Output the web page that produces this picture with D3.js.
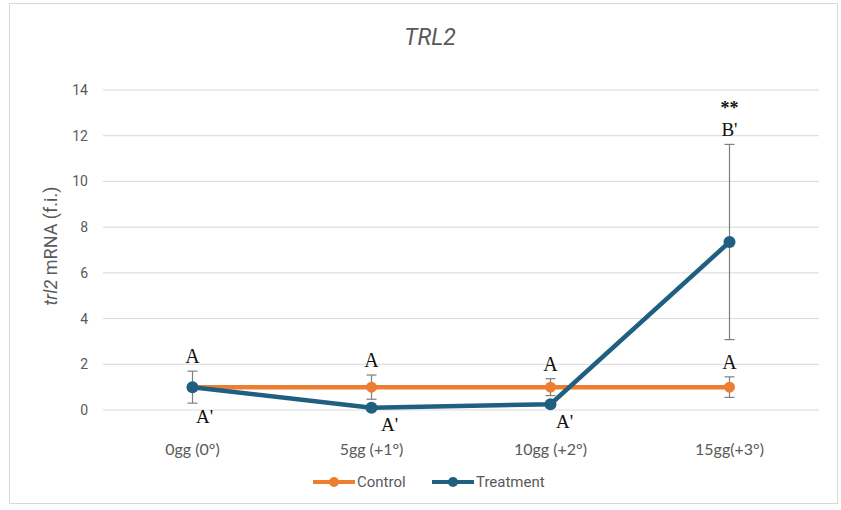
<!DOCTYPE html>
<html><head><meta charset="utf-8">
<script src="https://cdn.jsdelivr.net/npm/d3@7"></script>
<style>body{margin:0;background:#fff}svg{display:block}</style>
</head><body>
<svg id="c" width="841" height="510"></svg>
<script>
const categories = ["0gg (0°)", "5gg (+1°)", "10gg (+2°)", "15gg(+3°)"];
const controlValues = [1, 1, 1, 1];
const controlErrors = [0.7, 0.53, 0.37, 0.45];
const treatmentValues = [1, 0.1, 0.25, 7.35];
const treatmentErrors = [0, 0, 0, 4.27];
const controlLetters = ["A", "A", "A", "A"];
const treatmentLetters = ["A'", "A'", "A'", "B'"];
const significance = ["", "", "", "**"];
const yTicks = [0, 2, 4, 6, 8, 10, 12, 14];

const svg = d3.select("#c");
const orange = "#ED7D31", blue = "#1F5F80";
svg.append("rect").attr("x", 9.5).attr("y", 3.5).attr("width", 828).attr("height", 500)
  .attr("fill", "#fff").attr("stroke", "#d9d9d9");

const x = d3.scaleBand().domain(categories).range([103, 819]);
const y = d3.scaleLinear().domain([0, 14]).range([410, 90]);
const cx = c => x(c) + x.bandwidth() / 2;

// grid
svg.append("g").selectAll("line").data(yTicks).join("line")
  .attr("x1", 103).attr("x2", 819).attr("y1", d => y(d)).attr("y2", d => y(d))
  .attr("stroke", "#d9d9d9").attr("stroke-width", 1);

// y axis labels
const yAxis = d3.axisLeft(y).tickValues(yTicks).tickSize(0).tickPadding(0);
const gy = svg.append("g").attr("transform", "translate(88,0)").call(yAxis);
gy.select(".domain").remove();
gy.selectAll("text").attr("font-family", "Roboto, sans-serif").attr("font-size", 14).attr("fill", "#595959");

// x axis labels
const xAxis = d3.axisBottom(x).tickSize(0).tickPadding(0);
const gx = svg.append("g").attr("transform", "translate(0,444)").call(xAxis);
gx.select(".domain").remove();
gx.selectAll("text").attr("font-family", "Lato, sans-serif").attr("font-size", 16).attr("fill", "#595959");

// title
svg.append("text").attr("x", 430).attr("y", 45).attr("text-anchor", "middle")
  .attr("font-family", "Roboto, sans-serif").attr("font-style", "italic").attr("font-size", 23)
  .attr("fill", "#595959").text("TRL2");

// y title
const yt = svg.append("text").attr("transform", "translate(57,246) rotate(-90)").attr("text-anchor", "middle")
  .attr("font-family", "Roboto, sans-serif").attr("font-size", 18).attr("fill", "#595959");
yt.append("tspan").attr("font-style", "italic").text("trl2");
yt.append("tspan").text(" mRNA (f.i.)");

// error bars
function errBars(vals, errs, color) {
  const g = svg.append("g");
  categories.forEach((c, i) => {
    if (!errs[i]) return;
    const px = cx(c), t = y(vals[i] + errs[i]), b = y(vals[i] - errs[i]);
    g.append("line").attr("x1", px).attr("x2", px).attr("y1", t).attr("y2", b).attr("stroke", color).attr("stroke-width", 1.2);
    [t, b].forEach(yy => g.append("line").attr("x1", px - 5).attr("x2", px + 5).attr("y1", yy).attr("y2", yy).attr("stroke", color).attr("stroke-width", 1.2));
  });
}
errBars(controlValues, controlErrors, "#7f7f7f");
errBars(treatmentValues, treatmentErrors, "#7f7f7f");

const line = d3.line().x((d, i) => cx(categories[i])).y(d => y(d));
svg.append("path").datum(controlValues).attr("d", line).attr("fill", "none").attr("stroke", orange).attr("stroke-width", 4.5);
svg.append("g").selectAll("circle").data(controlValues).join("circle")
  .attr("cx", (d, i) => cx(categories[i])).attr("cy", d => y(d)).attr("r", 5.5).attr("fill", orange);
svg.append("path").datum(treatmentValues).attr("d", line).attr("fill", "none").attr("stroke", blue).attr("stroke-width", 4.5);
svg.append("g").selectAll("circle").data(treatmentValues).join("circle")
  .attr("cx", (d, i) => cx(categories[i])).attr("cy", d => y(d)).attr("r", 6).attr("fill", blue);

// letters
const serif = "'Liberation Serif', 'Times New Roman', serif";
categories.forEach((c, i) => {
  svg.append("text").attr("x", cx(c)).attr("y", y(controlValues[i] + controlErrors[i]) - 8)
    .attr("text-anchor", "middle").attr("font-family", serif).attr("font-size", 20).attr("fill", "#111").text(controlLetters[i]);
});
const treatBelow = [36, 23, 24, 0];
const treatDx = [12, 18, 14, 0];
categories.forEach((c, i) => {
  const py = i < 3 ? y(treatmentValues[i]) + treatBelow[i] : y(treatmentValues[i] + treatmentErrors[i]) - 8;
  svg.append("text").attr("x", cx(c) + treatDx[i]).attr("y", py)
    .attr("text-anchor", "middle").attr("font-family", serif).attr("font-size", 19).attr("fill", "#111").text(treatmentLetters[i]);
  if (significance[i]) svg.append("text").attr("x", cx(c)).attr("y", py - 22).attr("text-anchor", "middle")
    .attr("font-family", serif).attr("font-weight", "bold").attr("font-size", 18).attr("fill", "#111").text(significance[i]);
});

// legend
const legend = [{n: "Control", c: orange, x: 313}, {n: "Treatment", c: blue, x: 432}];
legend.forEach(l => {
  svg.append("line").attr("x1", l.x).attr("x2", l.x + 42).attr("y1", 482).attr("y2", 482).attr("stroke", l.c).attr("stroke-width", 4);
  svg.append("circle").attr("cx", l.x + 21).attr("cy", 482).attr("r", 5).attr("fill", l.c);
  svg.append("text").attr("x", l.x + 44).attr("y", 487).attr("font-family", "Roboto, sans-serif").attr("font-size", 15).attr("fill", "#595959").text(l.n);
});
</script>
</body></html>
